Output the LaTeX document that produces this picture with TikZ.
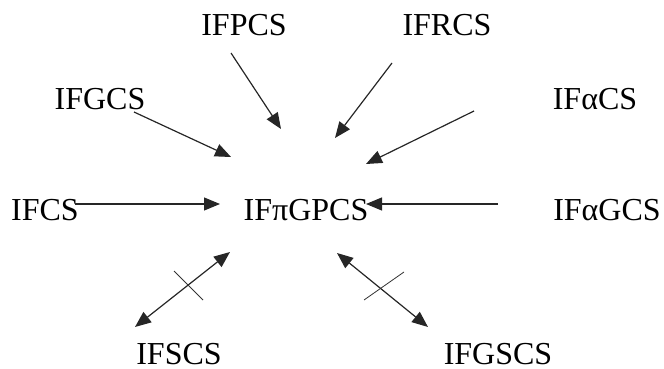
\documentclass[tikz,border=0pt]{standalone}
\usepackage{fontspec}
\setmainfont{Liberation Serif}
\usetikzlibrary{arrows.meta}

\begin{document}
\begin{tikzpicture}[x = 1pt, y = -1pt]
\tikzstyle{SetStyle}=[inner sep = 0pt,
                      anchor = base,
                      font = \fontsize{32}{38}\selectfont]
\tikzstyle{post}=[-{Triangle[length = 16pt, width = 13pt]},
                  line width = 1.2pt, black!85]
\tikzstyle{both}=[{Triangle[length = 16pt, width = 13pt]}-{Triangle[length = 16pt, width = 13pt]},
                  line width = 1.2pt, black!85]
\tikzstyle{NotStyle}=[line width = 0.8pt, black!80]

\useasboundingbox (0,0) rectangle (664,369);

\node[SetStyle] (pcs)   at (244,36)  {IFPCS};
\node[SetStyle] (rcs)   at (447,36)  {IFRCS};
\node[SetStyle] (gcs)   at (100,110) {IFGCS};
\node[SetStyle] (acs)   at (595,110) {IFαCS};
\node[SetStyle] (fcs)   at (45,220)  {IFCS};
\node[SetStyle] (pigpcs) at (306,220) {IFπGPCS};
\node[SetStyle] (agcs)  at (607,220) {IFαGCS};
\node[SetStyle] (scs)   at (179,364) {IFSCS};
\node[SetStyle] (gscs)  at (498,364) {IFGSCS};

% arrow ends
\coordinate (pcs-a)  at (231,53);  \coordinate (pcs-b)  at (281,129);
\coordinate (rcs-a)  at (392,63);  \coordinate (rcs-b)  at (335,138);
\coordinate (gcs-a)  at (134,112); \coordinate (gcs-b)  at (231,157);
\coordinate (acs-a)  at (474,111); \coordinate (acs-b)  at (366,164);
\coordinate (fcs-a)  at (75,204);  \coordinate (fcs-b)  at (220,204);
\coordinate (agcs-a) at (498,204); \coordinate (agcs-b) at (366,204);
\coordinate (scs-a)  at (135,327); \coordinate (scs-b)  at (230,252);
\coordinate (gscs-a) at (428,327); \coordinate (gscs-b) at (337,253);

\draw[post] (pcs-a) -- (pcs-b);
\draw[post] (rcs-a) -- (rcs-b);
\draw[post] (gcs-a) -- (gcs-b);
\draw[post] (acs-a) -- (acs-b);
\draw[post] (fcs-a) -- (fcs-b);
\draw[post] (agcs-a) -- (agcs-b);
\draw[both] (scs-a) -- (scs-b);
\draw[both] (gscs-a) -- (gscs-b);

% crossed out
\draw[NotStyle] (174,271) -- (203,300);
\draw[NotStyle] (404,272) -- (364,300);
\end{tikzpicture}
\end{document}
